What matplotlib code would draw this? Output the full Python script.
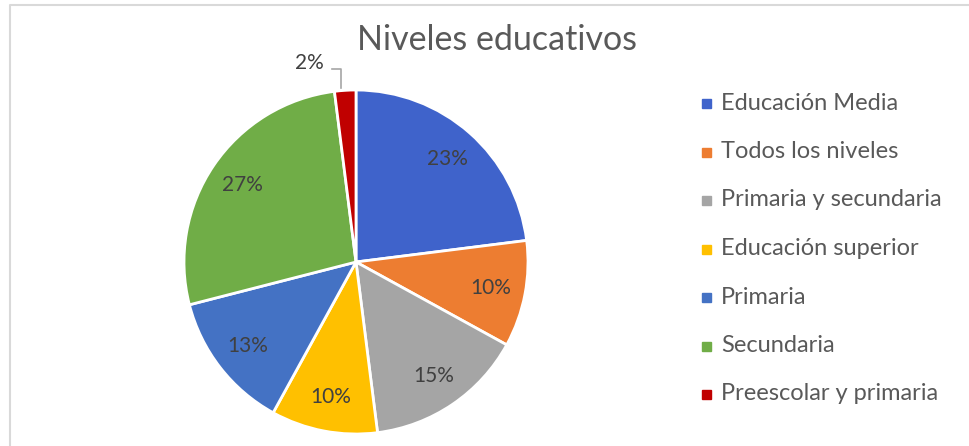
import matplotlib.pyplot as plt
from matplotlib.lines import Line2D
from matplotlib.patches import Rectangle

categories = [
    "Educación Media", "Todos los niveles", "Primaria y secundaria",
    "Educación superior", "Primaria", "Secundaria", "Preescolar y primaria"
]
values = [23, 10, 15, 10, 13, 27, 2]
colors = ["#3F63CB", "#ED7D31", "#A5A5A5", "#FFC000", "#4472C4", "#70AD47", "#C00000"]

W, H = 969, 446
plt.rcParams["font.family"] = ["Lato", "DejaVu Sans"]

fig = plt.figure(figsize=(W / 100, H / 100), dpi=100)
fig.patch.set_facecolor("white")

# pie centre (356, 262) px, radius 172 px
cx, cy, r = 356, 262, 172
ax = fig.add_axes([(cx - r) / W, (H - cy - r) / H, 2 * r / W, 2 * r / H])
wedges, texts, autotexts = ax.pie(
    values,
    colors=colors,
    startangle=90,
    counterclock=False,
    autopct="%1.0f%%",
    pctdistance=0.8,
    wedgeprops=dict(edgecolor="white", linewidth=2),
    textprops=dict(color="#404040", fontsize=15),
)
ax.set_xlim(-1, 1)
ax.set_ylim(-1, 1)
ax.set_aspect("auto")
ax.axis("off")

# small slice label goes outside with a leader line
autotexts[-1].set_position((-0.27, 1.155))
ax.plot([-0.14, -0.09, -0.09], [1.125, 1.125, 1.01], color="#A6A6A6", lw=1.2,
        clip_on=False)

fig.text(497 / W, 1 - 40 / H, "Niveles educativos", ha="center", va="center",
         fontsize=24.5, color="#595959")

# legend
for i, (name, col) in enumerate(zip(categories, colors)):
    y = 103 + i * 48.5
    fig.add_artist(Rectangle((702 / W, 1 - (y + 5) / H), 9 / W, 9 / H,
                             transform=fig.transFigure, color=col))
    fig.text(721 / W, 1 - y / H, name, ha="left", va="center",
             fontsize=17, color="#595959")

# chart border
fig.add_artist(Line2D([10 / W, 10 / W, 1], [0, 1 - 5 / H, 1 - 5 / H],
                      transform=fig.transFigure, color="#D9D9D9", lw=1.5))

fig.savefig("out.png", dpi=100)
